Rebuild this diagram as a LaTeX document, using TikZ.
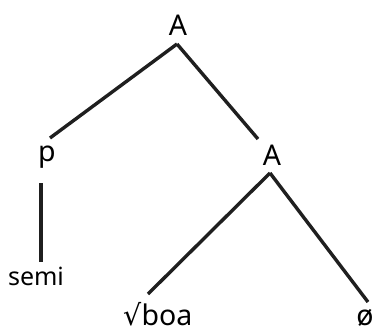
\documentclass[tikz,border=0pt]{standalone}
\usepackage{fontspec}
\setmainfont{Noto Sans}
\newfontfamily\symfont{DejaVu Sans}
\begin{document}
\begin{tikzpicture}[x=1pt,y=-1pt,
  lbl/.style={inner sep=0pt,anchor=base,font=\fontsize{28.5}{30}\selectfont},
  sml/.style={inner sep=0pt,anchor=base,font=\fontsize{25}{27}\selectfont},
  edge/.style={line width=3.4pt,color=black!88}]
\useasboundingbox (0,0) rectangle (376,330);
\node[lbl] (A1) at (178,35) {A};
\node[lbl] (p) at (47,161) {p};
\node[lbl] (A2) at (272,165) {A};
\node[sml] (semi) at (36,285) {semi};
\node[lbl] (boa) at (158,325) {{\symfont √}boa};
\node[lbl] (null) at (365,325) {ø};
\draw[edge] ([xshift=-1pt,yshift=-9pt]A1.base) -- ([xshift=3pt,yshift=23pt]p.base);
\draw[edge] ([xshift=-1pt,yshift=-9pt]A1.base) -- ([xshift=-14pt,yshift=26pt]A2.base);
\draw[edge] ([xshift=-6pt,yshift=-22pt]p.base) -- ([xshift=5pt,yshift=23pt]semi.base);
\draw[edge] ([xshift=-2pt,yshift=-8pt]A2.base) -- ([xshift=-10pt,yshift=31pt]boa.base);
\draw[edge] ([xshift=-2pt,yshift=-8pt]A2.base) -- ([xshift=3pt,yshift=23pt]null.base);
\end{tikzpicture}
\end{document}
